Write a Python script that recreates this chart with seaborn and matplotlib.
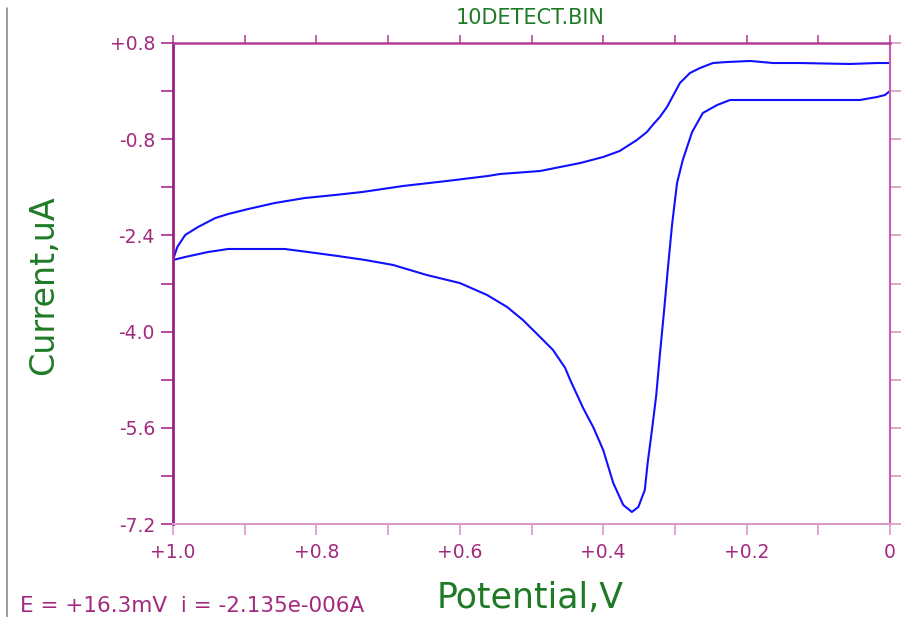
import numpy as np
import pandas as pd
import matplotlib
matplotlib.use("Agg")
import matplotlib.pyplot as plt
from matplotlib.lines import Line2D
import seaborn as sns

# Cathodic sweep: +1.0 V down to 0 V (contains the reduction peak)
sweep1_potential = [1.000, 0.983, 0.951, 0.923, 0.844, 0.812, 0.770, 0.732, 0.693, 0.646,
                    0.600, 0.562, 0.534, 0.512, 0.488, 0.470, 0.453, 0.446, 0.428, 0.414,
                    0.400, 0.386, 0.372, 0.360, 0.351, 0.342, 0.338, 0.332, 0.326, 0.321,
                    0.315, 0.310, 0.304, 0.297, 0.289, 0.276, 0.261, 0.241, 0.223, 0.181,
                    0.126, 0.070, 0.042, 0.018, 0.007, 0.000]
sweep1_current = [-2.809, -2.759, -2.676, -2.626, -2.626, -2.676, -2.743, -2.809, -2.892, -3.059,
                  -3.192, -3.391, -3.591, -3.807, -4.090, -4.306, -4.605, -4.805, -5.271, -5.587,
                  -5.969, -6.518, -6.884, -7.000, -6.917, -6.635, -6.185, -5.637, -5.055, -4.389,
                  -3.641, -2.976, -2.227, -1.528, -1.146, -0.680, -0.364, -0.231, -0.148, -0.148,
                  -0.148, -0.148, -0.148, -0.098, -0.065, 0.002]

# Anodic sweep: 0 V back up to +1.0 V
sweep2_potential = [0.000, 0.018, 0.056, 0.126, 0.163, 0.195, 0.227, 0.247, 0.265, 0.279,
                    0.293, 0.311, 0.321, 0.331, 0.339, 0.353, 0.377, 0.400, 0.432, 0.488,
                    0.544, 0.561, 0.618, 0.679, 0.736, 0.774, 0.816, 0.858, 0.895, 0.923,
                    0.941, 0.965, 0.983, 0.994, 1.000]
sweep2_current = [0.467, 0.467, 0.451, 0.467, 0.467, 0.501, 0.484, 0.467, 0.384, 0.301,
                  0.135, -0.264, -0.431, -0.564, -0.680, -0.813, -0.996, -1.096, -1.196, -1.329,
                  -1.379, -1.412, -1.495, -1.578, -1.678, -1.728, -1.778, -1.861, -1.961, -2.044,
                  -2.111, -2.260, -2.393, -2.593, -2.809]

x_ticks = [1.0, 0.8, 0.6, 0.4, 0.2, 0.0]
x_tick_labels = ["+1.0", "+0.8", "+0.6", "+0.4", "+0.2", "0"]
y_ticks = [0.8, -0.8, -2.4, -4.0, -5.6, -7.2]
y_tick_labels = ["+0.8", "-0.8", "-2.4", "-4.0", "-5.6", "-7.2"]

title_text = "10DETECT.BIN"
x_label = "Potential,V"
y_label = "Current,uA"
status_text = "E = +16.3mV  i = -2.135e-006A"

df = pd.concat([
    pd.DataFrame({"potential": sweep1_potential, "current": sweep1_current, "sweep": 1}),
    pd.DataFrame({"potential": sweep2_potential, "current": sweep2_current, "sweep": 2}),
], ignore_index=True)

sns.set_style("white")
plt.rcParams["font.family"] = ["DejaVu Sans"]

W, H = 919, 617
fig = plt.figure(figsize=(W / 100, H / 100), dpi=100)
ax = fig.add_axes([173 / W, 1 - 524 / H, (890 - 173) / W, (524 - 43) / H])

label_col = "#a3297f"
green = "#1f7a26"
curve_col = "#1010ff"

sns.lineplot(data=df, x="potential", y="current", units="sweep", estimator=None,
             sort=False, color=curve_col, linewidth=1.5, ax=ax)

ax.set_xlim(1.0, 0.0)
ax.set_ylim(-7.2, 0.8)
ax.set_xlabel("")
ax.set_ylabel("")

ax.set_xticks(x_ticks)
ax.set_xticklabels(x_tick_labels)
ax.set_xticks(np.arange(0.1, 1.0, 0.2), minor=True)
ax.set_yticks(y_ticks)
ax.set_yticklabels(y_tick_labels)
ax.set_yticks(np.arange(-6.4, 0.8, 1.6), minor=True)

ax.tick_params(axis="x", which="both", direction="out", length=8, width=1.2,
               labelsize=13.5, labelcolor=label_col, pad=6,
               bottom=True, top=True, labeltop=False)
ax.tick_params(axis="y", which="both", direction="out", length=9, width=1.2,
               labelsize=13.5, labelcolor=label_col, pad=4,
               left=True, right=True, labelright=False)

# Colour the tick marks of each frame edge separately
for tick in ax.xaxis.get_major_ticks() + ax.xaxis.get_minor_ticks():
    tick.tick1line.set_markeredgecolor("#dc98c9")   # bottom
    tick.tick2line.set_markeredgecolor("#b84a9c")   # top
    tick.tick2line.set_markersize(6)
for tick in ax.yaxis.get_major_ticks() + ax.yaxis.get_minor_ticks():
    tick.tick1line.set_markeredgecolor("#a8308c")   # left
    tick.tick2line.set_markeredgecolor("#dc98c9")   # right
    tick.tick2line.set_markersize(8)

for side, col, lw in [("left", "#9c1f86", 2.0), ("top", "#b03c96", 1.8),
                      ("right", "#cc5aaf", 1.5), ("bottom", "#dc98c9", 1.5)]:
    ax.spines[side].set_visible(True)
    ax.spines[side].set_color(col)
    ax.spines[side].set_linewidth(lw)

fig.text(530 / W, 1 - 18 / H, title_text, ha="center", va="center",
         fontsize=15, color=green)
fig.text(44 / W, 1 - 285 / H, y_label, ha="center", va="center", rotation=90,
         fontsize=24, color=green)
fig.text(530 / W, 1 - 598 / H, x_label, ha="center", va="center",
         fontsize=25, color=green)
fig.text(20 / W, 1 - 606 / H, status_text, ha="left", va="center",
         fontsize=15.5, color=label_col)

# Window border on the left edge
fig.add_artist(Line2D([7 / W, 7 / W], [0, 1 - 8 / H], transform=fig.transFigure,
                      color="#8a8a8a", linewidth=1.2))

fig.savefig("out.png", dpi=100)
